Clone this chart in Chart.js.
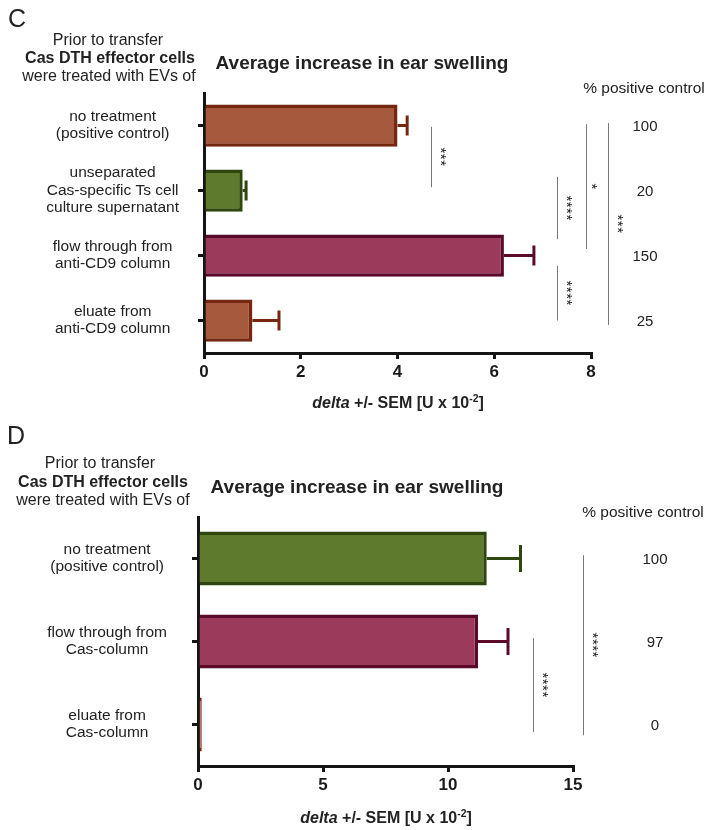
<!DOCTYPE html>
<html><head><meta charset="utf-8">
<script src="https://cdn.jsdelivr.net/npm/chart.js@4.4.1/dist/chart.umd.min.js"></script>
<style>
body{margin:0;background:#fff;width:711px;height:830px;overflow:hidden;position:relative;font-family:"Liberation Sans",Arial,sans-serif;color:#222;}
.t{position:absolute;white-space:nowrap;transform:translate(-50%,-50%);line-height:1;}
canvas{position:absolute;left:0;}
sup{font-size:65%;vertical-align:0;position:relative;top:-0.55em;}
</style></head><body>
<canvas id="cC" width="711" height="415" style="top:0"></canvas>
<canvas id="cD" width="711" height="415" style="top:415px"></canvas>

<div class="t" style="left:17px;top:18px;font-size:25px;">C</div>
<div class="t" style="left:108px;top:40px;font-size:16px;">Prior to transfer</div>
<div class="t" style="left:110px;top:58px;font-size:16px;font-weight:bold;">Cas DTH effector cells</div>
<div class="t" style="left:109px;top:76px;font-size:16px;">were treated with EVs of</div>
<div class="t" style="left:362px;top:62px;font-size:19px;font-weight:bold;">Average increase in ear swelling</div>
<div class="t" style="left:644px;top:88px;font-size:15.5px;">% positive control</div>
<div class="t" style="left:398px;top:403px;font-size:16px;font-weight:bold;"><i>delta</i> +/- SEM [U x 10<sup>-2</sup>]</div>

<div class="t" style="left:16px;top:435px;font-size:25px;">D</div>
<div class="t" style="left:100px;top:463px;font-size:16px;">Prior to transfer</div>
<div class="t" style="left:103px;top:482px;font-size:16px;font-weight:bold;">Cas DTH effector cells</div>
<div class="t" style="left:103px;top:500px;font-size:16px;">were treated with EVs of</div>
<div class="t" style="left:357px;top:486px;font-size:19px;font-weight:bold;">Average increase in ear swelling</div>
<div class="t" style="left:643px;top:512px;font-size:15.5px;">% positive control</div>
<div class="t" style="left:386px;top:818px;font-size:16px;font-weight:bold;"><i>delta</i> +/- SEM [U x 10<sup>-2</sup>]</div>

<script>
// ---------- Panel C data ----------
const categoriesC = [
  ["no treatment", "(positive control)"],
  ["unseparated", "Cas-specific Ts cell", "culture supernatant"],
  ["flow through from", "anti-CD9 column"],
  ["eluate from", "anti-CD9 column"]
];
const meanC = [4.0, 0.8, 6.2, 1.0];
const semC = [0.2, 0.07, 0.62, 0.55];
const pctC = ["100", "20", "150", "25"];
const xTicksC = [0, 2, 4, 6, 8];
// significance brackets: from/to category position, x position (data units), label
const sigC = [
  {from: 0.02, to: 0.95, x: 4.69, label: "***"},
  {from: 0.79, to: 1.75, x: 7.30, label: "****"},
  {from: -0.02, to: 1.90, x: 7.90, label: "*"},
  {from: -0.04, to: 3.07, x: 8.36, label: "***"},
  {from: 2.16, to: 3.00, x: 7.30, label: "****"}
];

// ---------- Panel D data ----------
const categoriesD = [
  ["no treatment", "(positive control)"],
  ["flow through from", "Cas-column"],
  ["eluate from", "Cas-column"]
];
const meanD = [11.55, 11.2, 0.15];
const semD = [1.35, 1.2, 0];
const pctD = ["100", "97", "0"];
const xTicksD = [0, 5, 10, 15];
const sigD = [
  {from: 0.96, to: 2.09, x: 13.4, label: "****"},
  {from: -0.04, to: 2.13, x: 15.4, label: "****"}
];

// ---------- styles ----------
const BROWN = {fill: "#A65A3D", border: "#762710"};
const GREEN = {fill: "#5E7A2C", border: "#2D470E"};
const PINK  = {fill: "#9C3A5C", border: "#5A0B2B"};
const FONT = '"Liberation Sans", Arial, sans-serif';

function extrasPlugin(cfg) {
  return {
    id: 'extras',
    afterDatasetsDraw(chart) {
      const ctx = chart.ctx, xs = chart.scales.x, ys = chart.scales.y;
      ctx.save();
      // error bars
      cfg.mean.forEach((m, i) => {
        const e = cfg.sem[i];
        if (!e) return;
        const y = ys.getPixelForValue(i);
        const x0 = xs.getPixelForValue(m), x1 = xs.getPixelForValue(m + e);
        ctx.strokeStyle = cfg.colors[i].border;
        ctx.lineWidth = 3;
        ctx.beginPath(); ctx.moveTo(x0, y); ctx.lineTo(x1, y); ctx.stroke();
        ctx.beginPath(); ctx.moveTo(x1, y - cfg.cap / 2); ctx.lineTo(x1, y + cfg.cap / 2); ctx.stroke();
      });
      // significance lines
      cfg.sig.forEach(s => {
        const x = Math.round(xs.getPixelForValue(s.x)) + 0.5;
        const y0 = ys.getPixelForValue(s.from), y1 = ys.getPixelForValue(s.to);
        ctx.strokeStyle = '#777';
        ctx.lineWidth = 1;
        ctx.beginPath(); ctx.moveTo(x, y0); ctx.lineTo(x, y1); ctx.stroke();
        ctx.save();
        ctx.translate(x + (s.label.length > 1 ? 9 : 5), (y0 + y1) / 2);
        ctx.rotate(Math.PI / 2);
        ctx.fillStyle = '#222';
        ctx.font = '15px ' + FONT;
        ctx.letterSpacing = '0.5px';
        ctx.textAlign = 'center';
        ctx.textBaseline = 'middle';
        ctx.fillText(s.label, 0, 0);
        ctx.restore();
      });
      // percent of positive control
      ctx.fillStyle = '#222';
      ctx.font = '15px ' + FONT;
      ctx.textAlign = 'center';
      ctx.textBaseline = 'middle';
      cfg.pct.forEach((p, i) => ctx.fillText(p, cfg.pctX, ys.getPixelForValue(i) + 1));
      ctx.restore();
    }
  };
}

function makeChart(id, o) {
  return new Chart(document.getElementById(id), {
    type: 'bar',
    data: {
      labels: o.cats,
      datasets: [{
        data: o.mean,
        backgroundColor: o.colors.map(c => c.fill),
        borderColor: o.colors.map(c => c.border),
        borderWidth: 3.5,
        barPercentage: 0.65,
        categoryPercentage: 1.0
      }]
    },
    options: {
      indexAxis: 'y',
      responsive: false,
      devicePixelRatio: 1,
      animation: false,
      layout: {padding: {top: o.top, right: o.right, bottom: 0, left: 0}},
      plugins: {legend: {display: false}, tooltip: {enabled: false}},
      scales: {
        x: {
          min: 0, max: o.max,
          afterBuildTicks: s => { s.ticks = o.xticks.map(v => ({value: v})); },
          afterFit: s => { s.height = o.xh; },
          border: {display: true, color: '#151515', width: 3},
          grid: {drawOnChartArea: false, drawTicks: true, tickLength: 6, color: '#151515', lineWidth: 3},
          ticks: {color: '#1a1a1a', padding: 3, font: {family: FONT, size: 17, weight: 'bold'}, maxRotation: 0}
        },
        y: {
          afterFit: s => { s.width = o.left; },
          border: {display: true, color: '#151515', width: 3},
          grid: {drawOnChartArea: false, drawTicks: true, tickLength: 6, color: '#151515', lineWidth: 3, offset: false},
          ticks: {color: '#222', crossAlign: 'center', padding: o.pad, font: {family: FONT, size: 15.5, lineHeight: 1.12}}
        }
      }
    },
    plugins: [extrasPlugin(o)]
  });
}

makeChart('cC', {
  cats: categoriesC, mean: meanC, sem: semC, pct: pctC, sig: sigC, xticks: xTicksC,
  colors: [BROWN, GREEN, PINK, BROWN], max: 8,
  top: 93, right: 120, left: 204, xh: 62, pad: 19, cap: 20, pctX: 645
});
makeChart('cD', {
  cats: categoriesD, mean: meanD, sem: semD, pct: pctD, sig: sigD, xticks: xTicksD,
  colors: [GREEN, PINK, BROWN], max: 15,
  top: 102, right: 138, left: 198, xh: 64, pad: 25, cap: 27, pctX: 655
});
</script>
</body></html>
